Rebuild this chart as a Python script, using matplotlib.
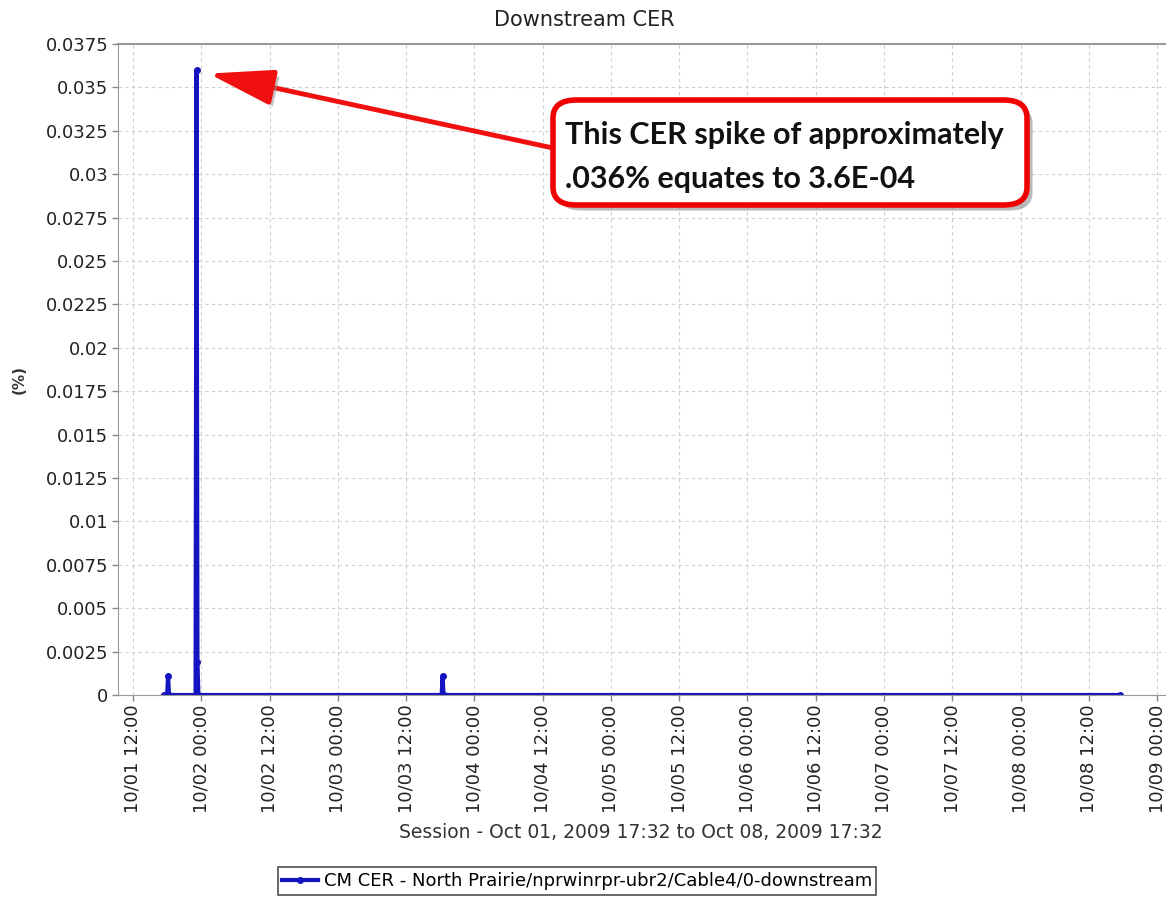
import matplotlib
matplotlib.use("Agg")
import matplotlib.pyplot as plt
import matplotlib.dates as mdates
import matplotlib.patheffects as pe
from matplotlib.patches import FancyBboxPatch, FancyArrowPatch
import pandas as pd

# Data (session Oct 01 17:32 to Oct 08 17:32)
times = ["2009-10-01 17:32", "2009-10-01 18:00", "2009-10-01 18:10", "2009-10-01 18:20",
         "2009-10-01 23:00", "2009-10-01 23:10", "2009-10-01 23:20", "2009-10-01 23:30",
         "2009-10-03 18:15", "2009-10-03 18:25", "2009-10-03 18:35",
         "2009-10-08 17:32"]
cer_values = [0.0, 0.0, 0.0011, 0.0,
              0.0, 0.0360, 0.0019, 0.0,
              0.0, 0.0011, 0.0,
              0.0]
ytick_values = [0, 0.0025, 0.005, 0.0075, 0.01, 0.0125, 0.015, 0.0175, 0.02,
                0.0225, 0.025, 0.0275, 0.03, 0.0325, 0.035, 0.0375]
ytick_labels = ["0", "0.0025", "0.005", "0.0075", "0.01", "0.0125", "0.015", "0.0175",
                "0.02", "0.0225", "0.025", "0.0275", "0.03", "0.0325", "0.035", "0.0375"]
series_name = "CM CER - North Prairie/nprwinrpr-ubr2/Cable4/0-downstream"
note_text = "This CER spike of approximately\n.036% equates to 3.6E-04"

t = pd.to_datetime(times)

W, H = 1166, 899
plt.rcParams['font.family'] = ['DejaVu Sans']
fig = plt.figure(figsize=(W / 100, H / 100), dpi=100)

# axes box in pixels: left 118, right 1166, top 44, bottom 695
ax = fig.add_axes([118 / W, (H - 695) / H, (1166 - 118) / W, (695 - 44) / H])

ax.plot(t, cer_values, color='#1414c0', linewidth=3, marker='o', markersize=4,
        label=series_name, solid_joinstyle='miter')

ax.set_xlim(pd.Timestamp("2009-10-01 09:22"), pd.Timestamp("2009-10-09 01:34"))
ax.set_ylim(0, 0.0375)
ax.set_yticks(ytick_values)
ax.set_yticklabels(ytick_labels, fontsize=13, color='#222222')

ax.xaxis.set_major_locator(mdates.HourLocator(byhour=[0, 12]))
ax.xaxis.set_major_formatter(mdates.DateFormatter("%m/%d %H:%M"))
plt.setp(ax.get_xticklabels(), rotation=90, fontsize=13, color='#222222')

ax.grid(True, color='#cfcfcf', linestyle=(0, (3, 3)), linewidth=0.8)
ax.tick_params(length=4, width=1, color='#888888', pad=3)
for side in ['left', 'bottom', 'top']:
    ax.spines[side].set_color('#999999')
ax.spines['top'].set_linewidth(1.5)
ax.spines['right'].set_visible(False)

ax.set_ylabel("(%)", fontsize=11, fontweight='bold', color='#333333')
ax.yaxis.set_label_coords(-0.087, 0.484)

fig.text(584 / W, 1 - 20 / H, "Downstream CER", ha='center', va='center',
         fontsize=15, color='#222222')
fig.text(641 / W, 1 - 833 / H, "Session - Oct 01, 2009 17:32 to Oct 08, 2009 17:32",
         ha='center', va='center', fontsize=13.5, color='#333333')

leg = fig.legend(loc='center', bbox_to_anchor=(577 / W, 1 - 881 / H), fontsize=13,
                 frameon=True, fancybox=False, handlelength=2, handletextpad=0.3,
                 borderpad=0.25, markerscale=1.0)
leg.get_frame().set_edgecolor('#222222')
leg.get_frame().set_linewidth(1.2)

# callout arrow
shadow = [pe.SimplePatchShadow(offset=(3, -3), shadow_rgbFace='#888888', alpha=0.5), pe.Normal()]
arrow = FancyArrowPatch((553, H - 148), (206, H - 73), transform=None,
                        arrowstyle='-|>,head_length=2.0,head_width=0.55',
                        mutation_scale=20, color='#f01010', linewidth=3.5,
                        path_effects=shadow, zorder=5)
fig.add_artist(arrow)

# callout box
box = FancyBboxPatch((553 / W, 1 - 205 / H), (1027 - 553) / W, (205 - 100) / H,
                     boxstyle='round,pad=0,rounding_size=0.02', transform=fig.transFigure,
                     facecolor='white', edgecolor='#f00000', linewidth=4,
                     path_effects=[pe.SimplePatchShadow(offset=(4, -4), shadow_rgbFace='#777777', alpha=0.5), pe.Normal()],
                     zorder=6)
fig.add_artist(box)
fig.text(565 / W, 1 - 157 / H, note_text, ha='left', va='center', fontsize=22,
         fontweight='bold', family=['Lato', 'DejaVu Sans'], color='#111111',
         linespacing=1.7, zorder=7)

fig.savefig("out.png", dpi=100, facecolor='white')
